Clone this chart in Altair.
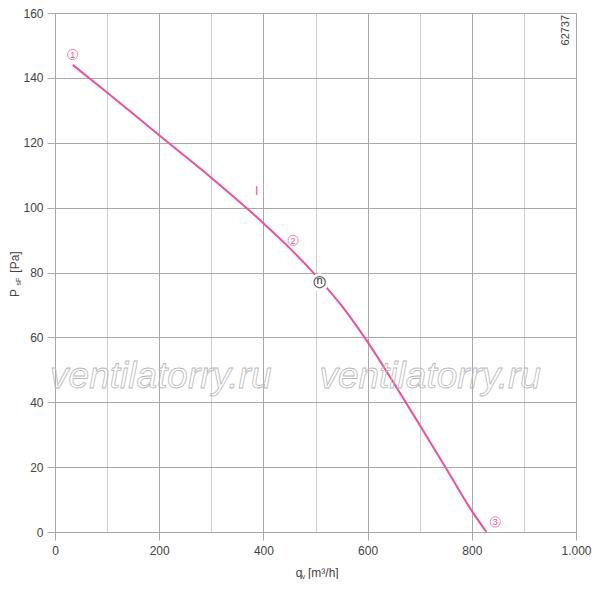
import altair as alt
import pandas as pd

# ---- data ----
q_curve = [34, 100, 200, 300, 400, 450, 500, 550, 600, 650, 700, 750, 800, 828]
p_curve = [144, 135.5, 122.3, 109.2, 95.2, 87.6, 79.2, 69.8, 58.6, 46.0, 33.0, 19.8, 6.5, 0]

marker_text = ["1", "2", "3"]
marker_q = [34, 457, 845]
marker_p = [147.2, 89.9, 3.1]

op_text = ["n"]
op_q = [508]
op_p = [77]

curve_name = ["I"]
curve_name_q = [387]
curve_name_p = [105]

wm_text = ["ventilatorry.ru", "ventilatorry.ru"]
wm_q = [203, 720]
wm_p = [44.3, 44.3]

code_text = ["62737"]
code_q = [980]
code_p = [154.7]

x_ticks = list(range(0, 1001, 100))
y_ticks = list(range(0, 161, 10))

PINK = "#ee4f9b"
LAB = "#444444"
FONT = "Liberation Sans"

xs = alt.Scale(domain=[0, 1000], nice=False, zero=False)
ys = alt.Scale(domain=[0, 160], nice=False, zero=False)

x_axis = alt.Axis(
    values=x_ticks,
    labelExpr="datum.value % 200 === 0 ? (datum.value === 1000 ? '1.000' : format(datum.value, 'd')) : ''",
    grid=True,
    gridColor={"condition": {"test": "datum.value % 200 === 0", "value": "#a9a9a9"}, "value": "#cfcfcf"},
    gridWidth=1,
    tickColor="#a9a9a9",
    tickOpacity={"condition": {"test": "datum.value % 200 === 0", "value": 1}, "value": 0},
    tickSize=8,
    tickWidth=1,
    domain=False,
    labelFont=FONT,
    labelFontSize=12,
    labelColor=LAB,
    labelPadding=5,
    labelOverlap=False,
    labelFlush=False,
    title=None,
)
y_axis = alt.Axis(
    values=y_ticks,
    labelExpr="datum.value % 20 === 0 ? format(datum.value, 'd') : ''",
    grid=True,
    gridColor="#aaaaaa",
    gridWidth=1,
    tickColor="#aaaaaa",
    tickOpacity={"condition": {"test": "datum.value % 20 === 0", "value": 1}, "value": 0},
    tickSize=8,
    tickWidth=1,
    domain=False,
    labelFont=FONT,
    labelFontSize=12,
    labelColor=LAB,
    labelPadding=4,
    labelOverlap=False,
    labelFlush=False,
    title=None,
)

curve_df = pd.DataFrame({"q": q_curve, "p": p_curve})
base_curve = alt.Chart(curve_df).mark_line(color=PINK, strokeWidth=2, interpolate="monotone").encode(
    x=alt.X("q:Q", scale=xs, axis=x_axis),
    y=alt.Y("p:Q", scale=ys, axis=y_axis),
)

wm_df = pd.DataFrame({"q": wm_q, "p": wm_p, "t": wm_text})
watermark = alt.Chart(wm_df).mark_text(
    font=FONT, fontSize=37, fontStyle="italic", stroke="#b8b8b8", strokeWidth=0.8,
    fillOpacity=0, align="center", baseline="alphabetic",
).encode(x=alt.X("q:Q", scale=xs), y=alt.Y("p:Q", scale=ys), text="t:N")

mk_df = pd.DataFrame({"q": marker_q, "p": marker_p, "t": marker_text})
mk_circ = alt.Chart(mk_df).mark_point(shape="circle", size=105, filled=False, color=PINK, strokeWidth=1).encode(
    x=alt.X("q:Q", scale=xs), y=alt.Y("p:Q", scale=ys))
mk_txt = alt.Chart(mk_df).mark_text(font=FONT, fontSize=9, color=PINK, align="center", baseline="middle", dy=0.5).encode(
    x=alt.X("q:Q", scale=xs), y=alt.Y("p:Q", scale=ys), text="t:N")

op_df = pd.DataFrame({"q": op_q, "p": op_p, "t": op_text})
op_halo = alt.Chart(op_df).mark_point(shape="circle", size=330, filled=True, color="white", opacity=1).encode(
    x=alt.X("q:Q", scale=xs), y=alt.Y("p:Q", scale=ys))
op_circ = alt.Chart(op_df).mark_point(shape="circle", size=125, filled=False, color="#222222", strokeWidth=1.2).encode(
    x=alt.X("q:Q", scale=xs), y=alt.Y("p:Q", scale=ys))
op_txt = alt.Chart(op_df).mark_text(font=FONT, fontSize=11, color="#222222", align="center", baseline="middle", dy=-1).encode(
    x=alt.X("q:Q", scale=xs), y=alt.Y("p:Q", scale=ys), text="t:N")

cn_df = pd.DataFrame({"q": curve_name_q, "p": curve_name_p, "t": curve_name})
cn_txt = alt.Chart(cn_df).mark_text(font=FONT, fontSize=12, color=PINK, align="center", baseline="middle").encode(
    x=alt.X("q:Q", scale=xs), y=alt.Y("p:Q", scale=ys), text="t:N")

code_df = pd.DataFrame({"q": code_q, "p": code_p, "t": code_text})
code_txt = alt.Chart(code_df).mark_text(font=FONT, fontSize=11, color=LAB, angle=270, align="center", baseline="middle").encode(
    x=alt.X("q:Q", scale=xs), y=alt.Y("p:Q", scale=ys), text="t:N")

one = pd.DataFrame({"k": [0]})

def label(txt, px, py, size, angle=0, align="center"):
    return alt.Chart(one).mark_text(font=FONT, fontSize=size, color=LAB, angle=angle, align=align, baseline="middle").encode(
        x=alt.value(px), y=alt.value(py), text=alt.value(txt))

titles = [
    label("P", -40, 280, 12, angle=270),
    label("sF", -36.5, 268.5, 7, angle=270),
    label("[Pa]", -40, 249, 12, angle=270),
    label("q", 244, 560, 12),
    label("v", 248.5, 563.5, 7),
    label("[m\u00b3/h]", 253, 560, 12, align="left"),
]

chart = alt.layer(
    base_curve, watermark, mk_circ, mk_txt, cn_txt, code_txt, op_halo, op_circ, op_txt, *titles
).properties(
    width=521, height=519,
    autosize=alt.AutoSizeParams(type="none"),
    padding={"left": 47, "top": 5, "right": 16, "bottom": 47},
).configure_view(stroke=None).configure(font=FONT)

chart.save("out.html", embed_options={"renderer": "svg", "actions": False})
